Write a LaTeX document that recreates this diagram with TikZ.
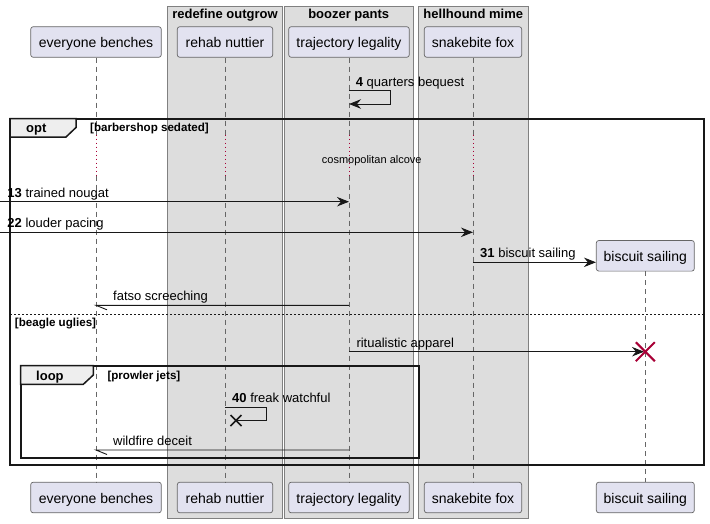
\documentclass[tikz,border=0pt]{standalone}
\usepackage{fontspec}
\setmainfont{Liberation Sans}
\usetikzlibrary{arrows.meta,calc}
\definecolor{partfill}{HTML}{E2E2F0}
\definecolor{boxfill}{HTML}{DDDDDD}
\definecolor{tabfill}{HTML}{EEEEEE}
\definecolor{crim}{HTML}{A80036}
\definecolor{ink}{HTML}{181818}
\begin{document}
\begin{tikzpicture}[x=1pt,y=-1pt,
  part/.style={draw=black!60,line width=0.7pt,fill=partfill,rounded corners=2.5pt,minimum height=30.6pt,inner sep=0pt,text height=11.2pt,text depth=0pt,font=\fontsize{14}{16}\selectfont},
  grp/.style={draw=black!50,line width=0.8pt,fill=boxfill},
  grptitle/.style={font=\fontsize{13}{15}\selectfont\bfseries,anchor=base,inner sep=0pt},
  life/.style={draw=black!60,line width=0.7pt,dash pattern=on 5pt off 4pt},
  delayl/.style={draw=crim,line width=1pt,dash pattern=on 1pt off 3pt},
  msg/.style={draw=ink,line width=0.9pt},
  arr/.style={msg,-{Stealth[length=12pt,width=9.5pt,inset=4pt]}},
  lbl/.style={font=\fontsize{13}{15}\selectfont,anchor=base west,inner sep=0pt},
  frm/.style={draw=ink,line width=1.8pt},
  tabshape/.style={draw=ink,line width=1.5pt,fill=tabfill},
  tabtext/.style={font=\fontsize{13}{15}\selectfont\bfseries,anchor=base west,inner sep=0pt},
  cond/.style={font=\fontsize{11.6}{13}\selectfont\bfseries,anchor=base west,inner sep=0pt},
  delaytext/.style={font=\fontsize{11}{13}\selectfont,anchor=base west,inner sep=0pt},
  crossline/.style={line width=1.6pt}
]
\useasboundingbox (0,0) rectangle (710,523);

% group boxes
\path[grp] (167.3,6) rectangle (282.7,518.3);
\path[grp] (284,6) rectangle (413.3,518.3);
\path[grp] (418.3,6) rectangle (528.3,518.3);
\node[grptitle] (g1) at (225,18.5) {redefine outgrow};
\node[grptitle] (g2) at (348.7,18.5) {boozer pants};
\node[grptitle] (g3) at (473.3,18.5) {hellhound mime};

% participants
\node[part,minimum width=130.6pt] (eb) at (96,42) {everyone benches};
\node[part,minimum width=95.4pt] (rn) at (225,42) {rehab nuttier};
\node[part,minimum width=120.6pt] (tl) at (349,42) {trajectory legality};
\node[part,minimum width=97.4pt] (sf) at (473,42) {snakebite fox};
\node[part,minimum width=130.6pt] (eb2) at (96,497.5) {everyone benches};
\node[part,minimum width=95.4pt] (rn2) at (225,497.5) {rehab nuttier};
\node[part,minimum width=120.6pt] (tl2) at (349,497.5) {trajectory legality};
\node[part,minimum width=97.4pt] (sf2) at (473,497.5) {snakebite fox};
\node[part,minimum width=98pt] (bs2) at (645.3,497.5) {biscuit sailing};

% lifelines with delay
\foreach \p in {eb,rn,tl,sf}{
  \coordinate (\p d1) at ($(\p.south)+(0,77)$);
  \coordinate (\p d2) at ($(\p.south)+(0,118)$);
  \draw[life] (\p.south) -- (\p d1);
  \draw[delayl] (\p d1) -- (\p d2);
  \draw[life] (\p d2) -- (\p 2.north);
}
\node[part,minimum width=98pt] (bs) at (645.3,255.8) {biscuit sailing};
\draw[life] (bs.south) -- (bs2.north);

% frames
\draw[frm] (10,118.7) rectangle (704,465.3);
\draw[tabshape] (10,118.7) -- (76,118.7) -- (76,127.5) -- (66,137) -- (10,137) -- cycle;
\node[tabtext] (optt) at (26,132.3) {opt};
\node[cond] (c1) at (90,131.5) {[barbershop sedated]};
\draw[draw=ink,line width=0.8pt,dash pattern=on 2pt off 2pt] (10,314.3) -- (704,314.3);
\node[cond] (c2) at (14.7,326) {[beagle uglies]};

\draw[frm] (20.7,365.7) rectangle (419.3,458.3);
\draw[tabshape] (20.7,365.7) -- (93.3,365.7) -- (93.3,375) -- (83.3,384.3) -- (20.7,384.3) -- cycle;
\node[tabtext] (loopt) at (36,380.5) {loop};
\node[cond] (c3) at (107.3,379) {[prowler jets]};

% delay text
\node[delaytext] (dl) at (321.7,163.3) {cosmopolitan alcove};

% message 4 (self)
\coordinate (m4a) at (349,90.7);
\coordinate (m4b) at (349,104);
\draw[arr] (m4a) -- ++(41.7,0) -- ++(0,13.3) -- (m4b);
\node[lbl] (l4) at (355.7,86.2) {\textbf{4} quarters bequest};

% message 13
\coordinate (m13s) at (0,201.7);
\draw[arr] (m13s) -- (m13s -| tl.south);
\node[lbl] (l13) at (7.3,197.2) {\textbf{13} trained nougat};

% message 22
\coordinate (m22s) at (0,232.3);
\draw[arr] (m22s) -- (m22s -| sf.south);
\node[lbl] (l22) at (7.3,227.8) {\textbf{22} louder pacing};

% message 31
\coordinate (m31s) at (473,262.3);
\draw[arr] (m31s) -- (m31s -| bs.west);
\node[lbl] (l31) at (480,257.8) {\textbf{31} biscuit sailing};

% fatso screeching
\coordinate (mfs) at (349,305.3);
\coordinate (mfe) at (96,305.3);
\draw[msg] (mfs) -- (mfe) -- ++(11,4.5);
\node[lbl] (lfs) at (113,300.8) {fatso screeching};

% ritualistic apparel
\coordinate (mrs) at (349,351.7);
\coordinate (mre) at (644,351.7);
\draw[arr] (mrs) -- (mre);
\node[lbl] (lra) at (356.3,347.2) {ritualistic apparel};
\coordinate (xb) at (645.3,351.7);
\draw[crim,line width=2pt] ($(xb)+(-9.5,-9.5)$) -- ($(xb)+(9.5,9.5)$) ($(xb)+(-9.5,9.5)$) -- ($(xb)+(9.5,-9.5)$);

% message 40 (self, lost)
\coordinate (m40a) at (225,407.3);
\coordinate (x40) at (236,420.5);
\draw[msg] (m40a) -- ++(41.7,0) -- ++(0,13.2) -- (x40);
\draw[ink,crossline] ($(x40)+(-5.5,-5.5)$) -- ($(x40)+(5.5,5.5)$) ($(x40)+(-5.5,5.5)$) -- ($(x40)+(5.5,-5.5)$);
\node[lbl] (l40) at (232,402.8) {\textbf{40} freak watchful};

% wildfire deceit
\coordinate (mws) at (349,450);
\coordinate (mwe) at (96,450);
\draw[msg] (mws) -- (mwe) -- ++(11,4.5);
\node[lbl] (lwd) at (113,445.5) {wildfire deceit};
\end{tikzpicture}
\end{document}
